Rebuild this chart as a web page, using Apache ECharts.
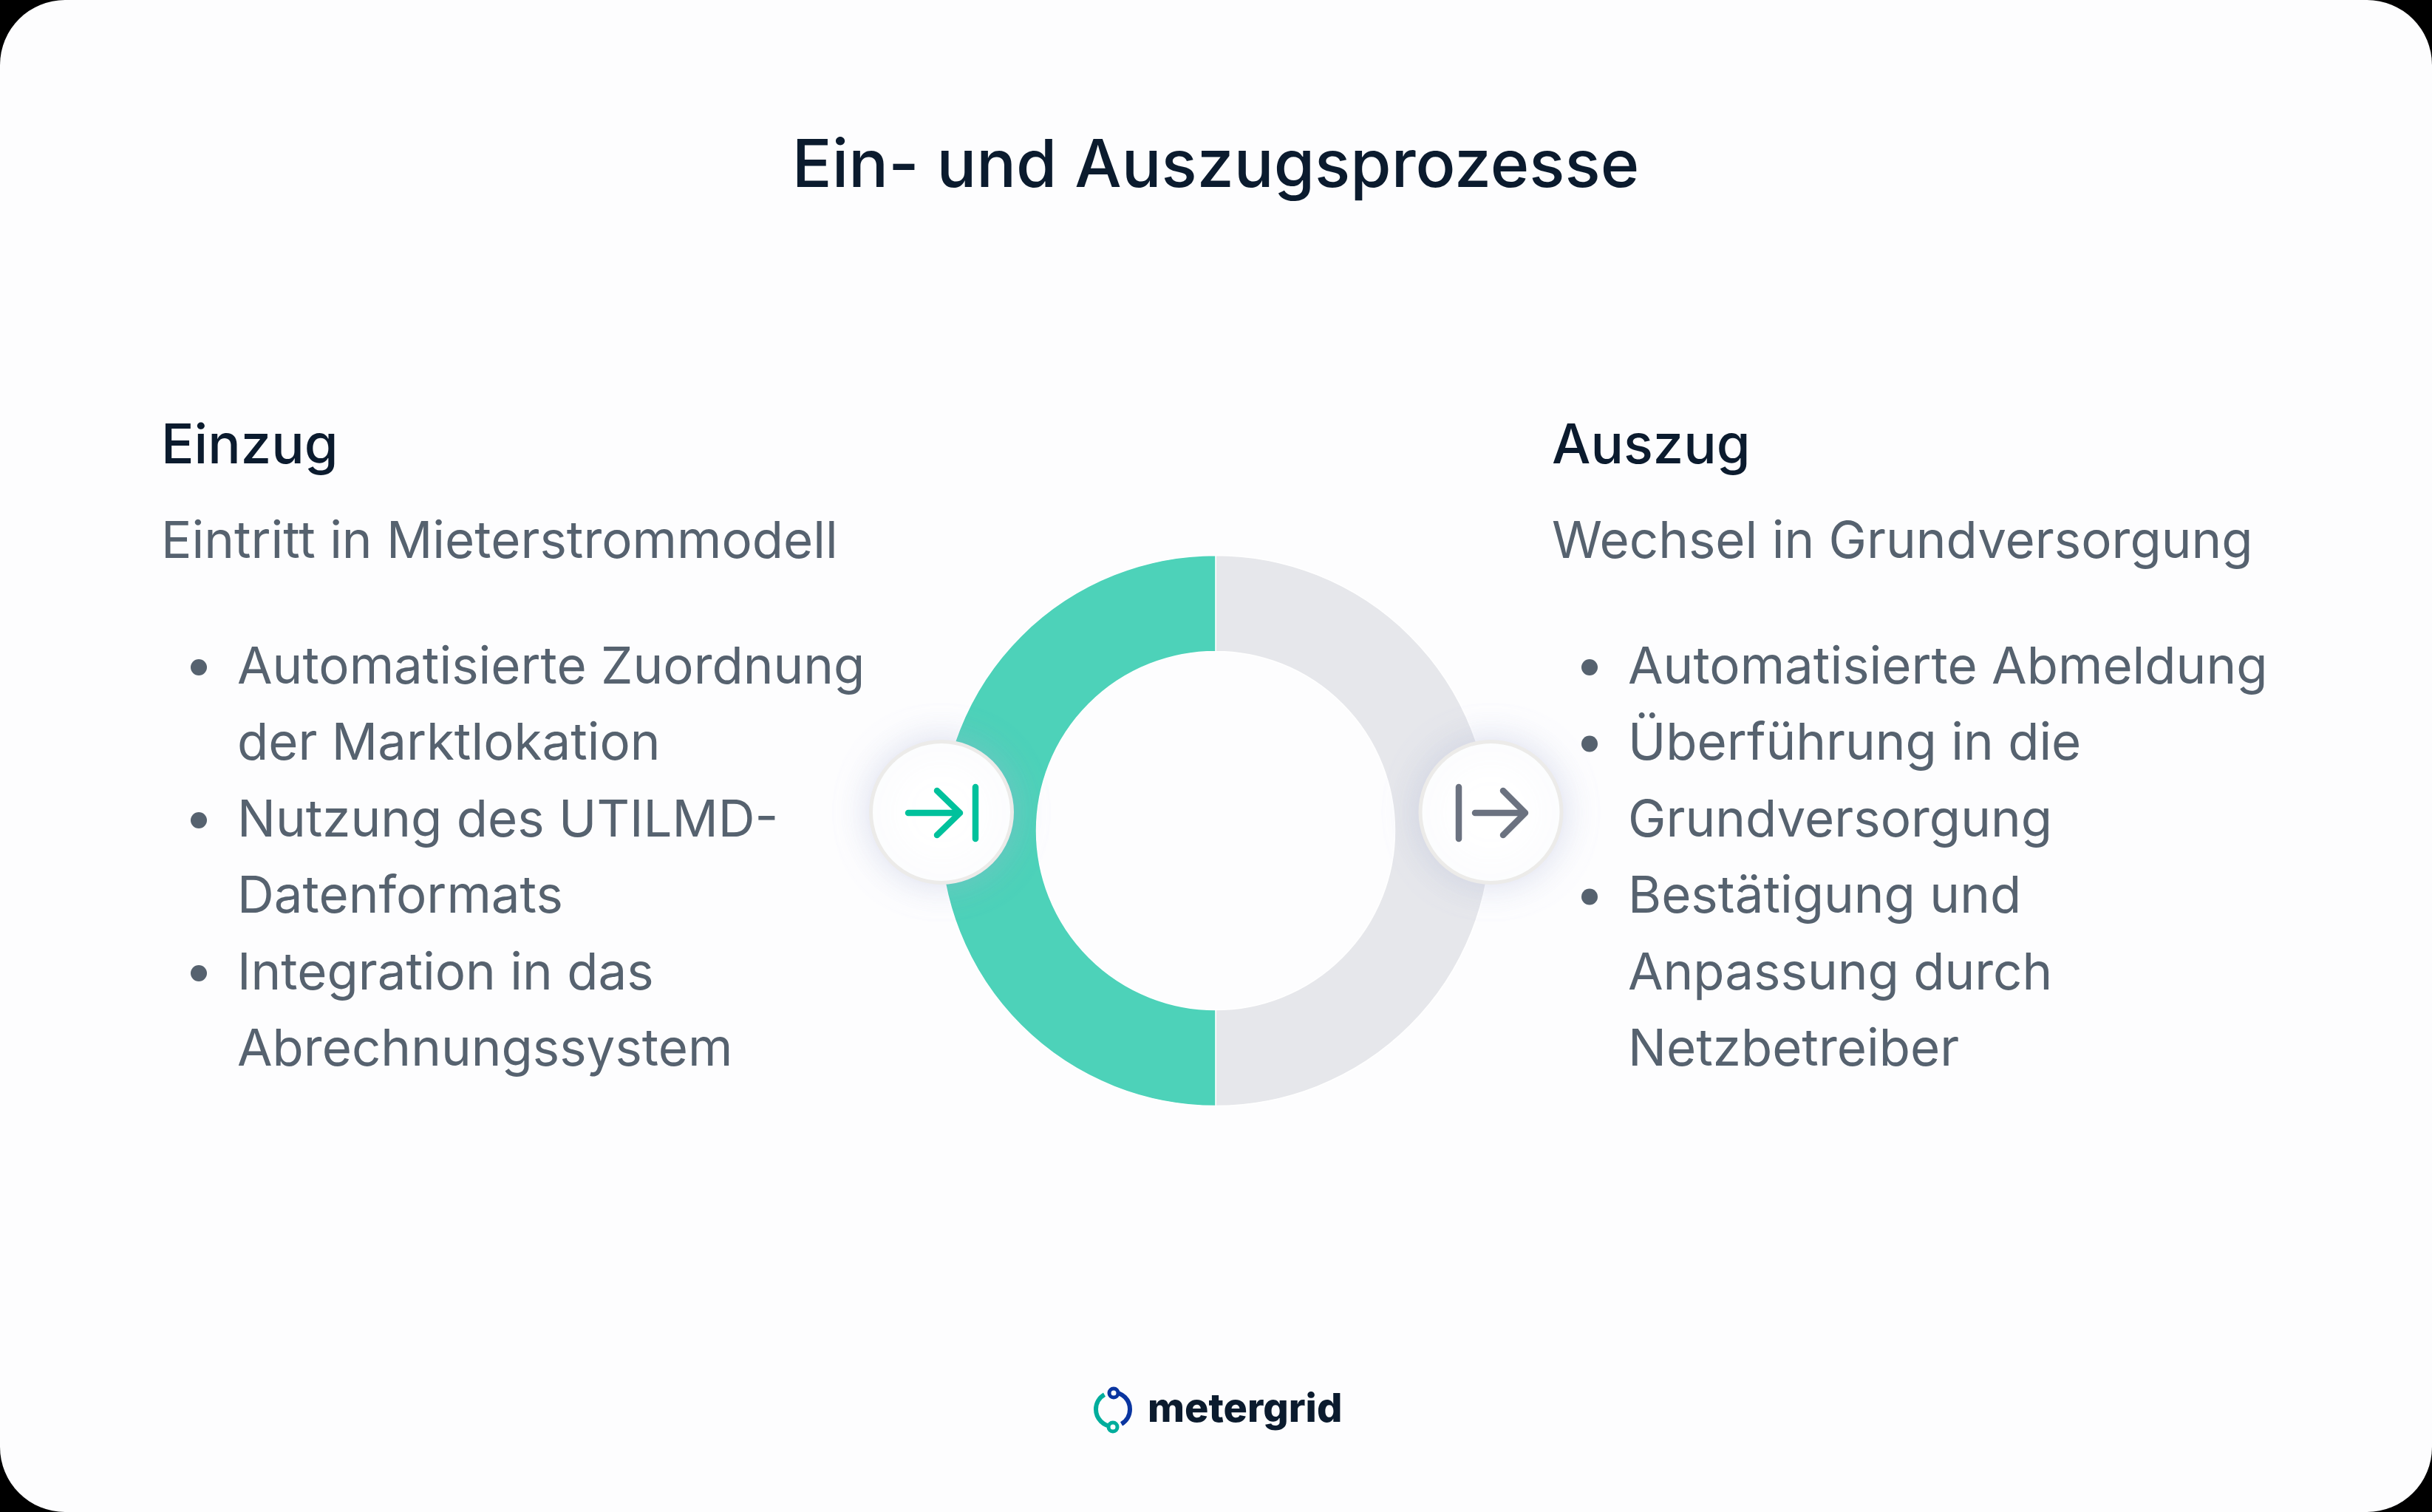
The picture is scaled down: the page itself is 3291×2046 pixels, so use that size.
<!DOCTYPE html>
<html lang="de">
<head>
<meta charset="UTF-8" />
<title>Ein- und Auszugsprozesse</title>
<style>html,body{margin:0;padding:0;background:#000}#main{width:3291px;height:2046px}</style>
</head>
<body>
<div id="main"></div>
<script src="https://cdn.jsdelivr.net/npm/echarts@6/dist/echarts.min.js"></script>
<script>
var chartTitle = "Ein- und Auszugsprozesse";
var categories = ["Auszug", "Einzug"];
var shares = [50, 50];
var leftHead = "Einzug";
var leftSub = "Eintritt in Mieterstrommodell";
var leftItems = [
	["Automatisierte Zuordnung", "der Marktlokation"],
	["Nutzung des UTILMD-", "Datenformats"],
	["Integration in das", "Abrechnungssystem"]
];
var rightHead = "Auszug";
var rightSub = "Wechsel in Grundversorgung";
var rightItems = [
	["Automatisierte Abmeldung"],
	["Überführung in die", "Grundversorgung"],
	["Bestätigung und", "Anpassung durch", "Netzbetreiber"]
];
var brand = "metergrid";

var DARK = "#0b1b2e", BODY = "#56626f", GREEN = "#00c19c", GREY = "#6b7280";
var FONT = "Inter";
var myChart = echarts.init(document.getElementById("main"));

function text(x, y, str, size, color, weight, align) {
	return {
		type: "text", x: x, y: y, z: 10,
		style: { text: str, fontFamily: FONT, fontSize: size, fontWeight: weight || 400, fill: color, align: align || "left", verticalAlign: "middle" }
	};
}

// one text column: heading, sub line and the bullet list
function column(x, head, sub, items) {
	var out = [text(x, 605, head, 74, DARK, 500), text(x, 734, sub, 69, BODY)];
	var y = 904, step = 103.5;
	items.forEach(function (lines) {
		out.push({ type: "circle", z: 10, shape: { cx: x + 51, cy: y - 1, r: 11 }, style: { fill: BODY } });
		lines.forEach(function (l) {
			out.push(text(x + 103, y, l, 69, BODY));
			y += step;
		});
	});
	return out;
}

function badge(cx, cy) {
	return {
		type: "circle", z: 8, shape: { cx: cx, cy: cy, r: 95.5 },
		style: { fill: "#fff", stroke: "#ecebe9", lineWidth: 5, shadowBlur: 50, shadowColor: "rgba(170,180,215,0.4)" }
	};
}

function stroke(points, color) {
	return {
		type: "polyline", z: 9, shape: { points: points },
		style: { fill: "none", stroke: color, lineWidth: 8.5, lineCap: "round", lineJoin: "round" }
	};
}

function arc(cx, cy, r, a0, a1, color, w) {
	return {
		type: "arc", z: 10, shape: { cx: cx, cy: cy, r: r, startAngle: a0, endAngle: a1, clockwise: true },
		style: { fill: "none", stroke: color, lineWidth: w }
	};
}

var deg = Math.PI / 180;
var TEAL = "#00ad9c", BLUE = "#0a35a0";
var elements = [
	{ type: "rect", z: 0, shape: { x: 0, y: 0, width: 3291, height: 2046, r: 88 }, style: { fill: "#fdfdfe" } },
	text(1645, 226, chartTitle, 89.5, DARK, 500, "center"),
	badge(1274, 1099),
	stroke([[1229, 1100], [1298, 1100]], GREEN),
	stroke([[1268, 1070], [1299, 1100], [1268, 1130]], GREEN),
	stroke([[1320, 1065], [1320, 1135]], GREEN),
	badge(2017.5, 1099),
	stroke([[1974, 1065], [1974, 1135]], GREY),
	stroke([[1996, 1100], [2063, 1100]], GREY),
	stroke([[2034, 1070], [2064, 1100], [2034, 1130]], GREY),
	// logo
	arc(1506, 1907, 23, 90 * deg, 240 * deg, TEAL, 6),
	arc(1506, 1907, 23, -90 * deg, 60 * deg, BLUE, 6),
	{ type: "circle", z: 11, shape: { cx: 1507, cy: 1885, r: 6 }, style: { fill: "#fff", stroke: BLUE, lineWidth: 5 } },
	{ type: "circle", z: 11, shape: { cx: 1506, cy: 1931, r: 6 }, style: { fill: "#fff", stroke: TEAL, lineWidth: 5 } },
	text(1553, 1908, brand, 54, "#0b1b2e", 800)
].concat(column(218, leftHead, leftSub, leftItems), column(2100, rightHead, rightSub, rightItems));

var option = {
	backgroundColor: "#000",
	animation: false,
	graphic: { elements: elements },
	series: [
		{
			type: "pie",
			z: 5,
			silent: true,
			center: [1645, 1124],
			radius: [242.5, 372.5],
			startAngle: 90,
			label: { show: false },
			labelLine: { show: false },
			itemStyle: { borderColor: "#fff", borderWidth: 1.5 },
			data: categories.map(function (c, i) {
				return { name: c, value: shares[i], itemStyle: { color: i === 0 ? "#e6e7eb" : "#4dd2b9" } };
			})
		}
	]
};

myChart.setOption(option);
</script>
</body>
</html>
